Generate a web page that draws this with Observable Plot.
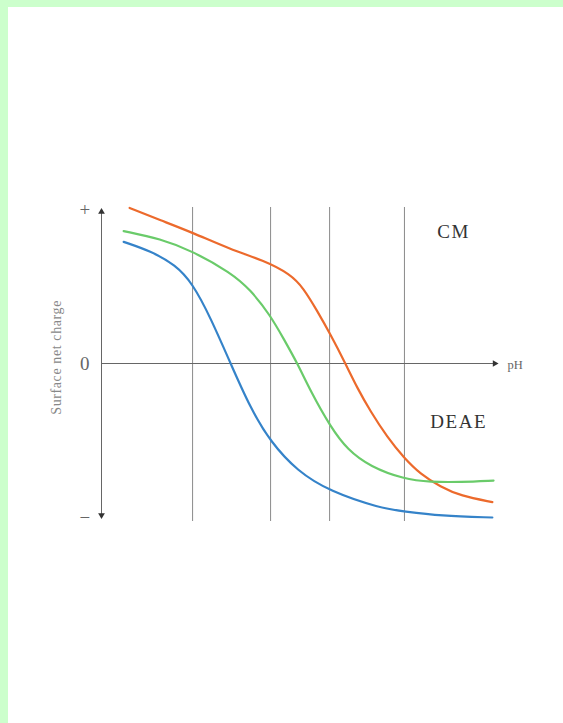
<!DOCTYPE html>
<html>
<head>
<meta charset="utf-8">
<script src="https://cdn.jsdelivr.net/npm/d3@7"></script>
<script src="https://cdn.jsdelivr.net/npm/@observablehq/plot@0.6"></script>
<style>
  html, body { margin: 0; padding: 0; background: #fff; overflow: hidden; }
  #wrap { position: relative; width: 563px; height: 723px; }
  #wrap svg { position: absolute; left: 0; top: 0; }
  .bt { position: absolute; left: 0; top: 0; width: 563px; height: 7px; background: #ccffcc; z-index: 2; }
  .bl { position: absolute; left: 0; top: 0; width: 8px; height: 723px; background: #ccffcc; z-index: 2; }
</style>
</head>
<body>
<div id="wrap"><div class="bt"></div><div class="bl"></div></div>
<script>
// x: arbitrary pH units along the axis (0 = y axis, 10 = arrow tip); y: surface net charge (+1 top, -1 bottom)
const orangeX = [0.71, 1.49, 2.30, 3.26, 4.09, 4.77, 5.10, 5.45, 5.78, 6.16, 6.46, 6.79, 7.22, 7.63, 8.06, 8.56, 9.07, 9.87];
const orangeY = [1.01, 0.93, 0.85, 0.74, 0.67, 0.58, 0.49, 0.34, 0.19, 0.00, -0.16, -0.31, -0.48, -0.61, -0.72, -0.80, -0.86, -0.90];

const greenX = [0.56, 1.49, 2.30, 3.26, 3.76, 4.27, 4.60, 4.95, 5.28, 5.78, 6.21, 6.79, 7.63, 8.31, 9.07, 9.90];
const greenY = [0.86, 0.81, 0.73, 0.59, 0.48, 0.31, 0.16, 0.00, -0.18, -0.41, -0.56, -0.67, -0.75, -0.77, -0.77, -0.76];

const blueX = [0.56, 1.24, 1.87, 2.30, 2.75, 3.26, 3.76, 4.27, 4.95, 5.76, 7.05, 7.63, 8.56, 9.87];
const blueY = [0.79, 0.73, 0.64, 0.52, 0.30, 0.00, -0.29, -0.51, -0.70, -0.83, -0.94, -0.96, -0.99, -1.00];

const gridX = [2.30, 4.27, 5.76, 7.65];
const yTickValues = [1, 0, -1];
const yTickLabels = ["+", "0", "−"];
const regionLabels = ["CM", "DEAE"];
const regionX = [8.89, 9.02];
const regionY = [0.857, -0.377];

const toRows = (xs, ys) => xs.map((x, i) => ({x, y: ys[i]}));
const orange = toRows(orangeX, orangeY);
const green = toRows(greenX, greenY);
const blue = toRows(blueX, blueY);
const yTicks = yTickValues.map((v, i) => ({v, label: yTickLabels[i]}));
const regions = regionLabels.map((t, i) => ({t, x: regionX[i], y: regionY[i]}));

const serif = "Liberation Serif, Times New Roman, serif";

const chart = Plot.plot({
  width: 563,
  height: 723,
  marginLeft: 101,
  marginRight: 66,
  marginTop: 209,
  marginBottom: 206,
  x: {domain: [0, 10], axis: null},
  y: {domain: [-1, 1], axis: null},
  style: {background: "transparent", fontFamily: serif},
  marks: [
    // vertical grid lines
    Plot.ruleX(gridX, {x: d => d, y1: 1.013, y2: -1.026, stroke: "#8a8a8a", strokeWidth: 1}),
    // zero line (pH axis)
    Plot.ruleY([0], {x1: 0, x2: 10, stroke: "#666", strokeWidth: 1}),
    // vertical axis
    Plot.ruleX([0], {y1: 0.99, y2: -0.99, stroke: "#666", strokeWidth: 1}),
    // arrowheads
    Plot.dot([{x: 0, y: 0.985}], {x: "x", y: "y", symbol: "triangle2", r: 3.2, fill: "#333", stroke: "none", rotate: 0}),
    Plot.dot([{x: 0, y: -0.985}], {x: "x", y: "y", symbol: "triangle2", r: 3.2, fill: "#333", stroke: "none", rotate: 180}),
    Plot.dot([{x: 9.93, y: 0}], {x: "x", y: "y", symbol: "triangle2", r: 3.2, fill: "#333", stroke: "none", rotate: 90}),
    // curves
    Plot.line(orange, {x: "x", y: "y", stroke: "#ec6a2c", strokeWidth: 2.2, curve: "basis"}),
    Plot.line(green, {x: "x", y: "y", stroke: "#6acb6a", strokeWidth: 2.2, curve: "basis"}),
    Plot.line(blue, {x: "x", y: "y", stroke: "#3583c9", strokeWidth: 2.2, curve: "basis"}),
    // y tick labels
    Plot.text(yTicks, {x: -0.42, y: "v", text: "label", fontSize: 19, fill: "#666", textAnchor: "middle", fontFamily: serif}),
    // y axis title
    Plot.text(["Surface net charge"], {x: -1.14, y: 0.04, text: d => d, rotate: -90, fontSize: 14, fill: "#888", fontFamily: serif}),
    // pH label
    Plot.text(["pH"], {x: 10.25, y: -0.01, text: d => d, fontSize: 12.5, fill: "#666", textAnchor: "start", fontFamily: serif}),
    // region labels
    Plot.text(regions, {x: "x", y: "y", text: "t", fontSize: 19, fill: "#333", fontFamily: serif, textAnchor: "middle"})
  ]
});
chart.querySelectorAll("text").forEach(t => {
  const s = t.textContent;
  if (s === "CM" || s === "DEAE") t.setAttribute("letter-spacing", "1.5");
  if (s === "Surface net charge") t.setAttribute("letter-spacing", "0.6");
});
document.getElementById("wrap").appendChild(chart);
</script>
</body>
</html>
